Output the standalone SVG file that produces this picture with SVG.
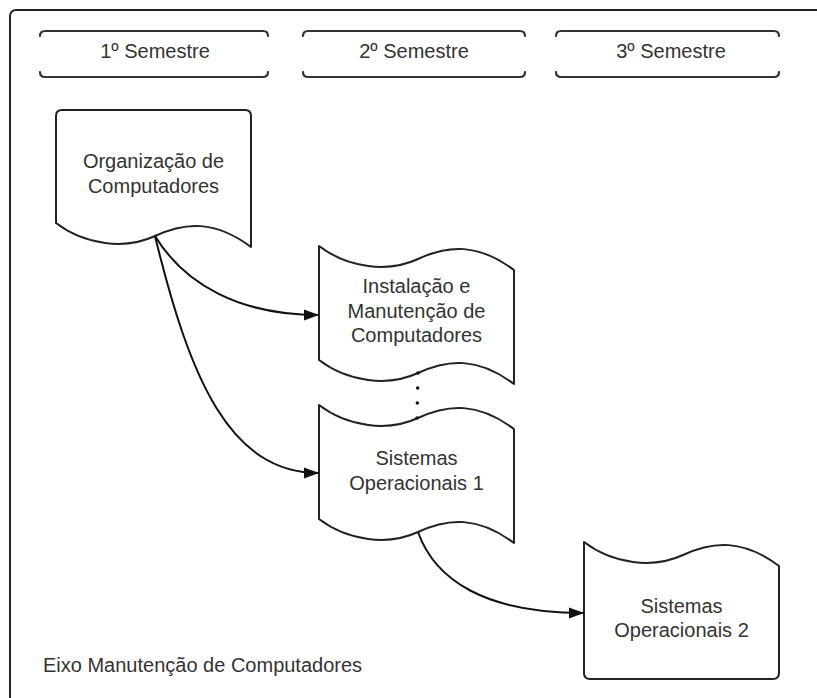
<svg xmlns="http://www.w3.org/2000/svg" width="817" height="698" viewBox="0 0 817 698">
<style>
.shape{fill:#fff;stroke:#222;stroke-width:2;stroke-linejoin:round}
.bar{fill:none;stroke:#333;stroke-width:2.2;stroke-linecap:round}
.t{font-family:"Liberation Sans",Arial,sans-serif;font-size:20px;fill:#333;text-anchor:middle}
.conn{fill:none;stroke:#111;stroke-width:2}
</style>
<defs>
<marker id="arr" markerUnits="userSpaceOnUse" markerWidth="16" markerHeight="12" refX="15" refY="6" orient="auto">
<path d="M0,0.5 L15,6 L0,11.5 Z" fill="#111"/>
</marker>
</defs>
<rect x="10" y="10" width="840" height="720" rx="6" fill="#fff" stroke="#222" stroke-width="2"/>
<g id="sem1">
<path class="bar" d="M40,36 Q40,31 45,31 L263,31 Q268,31 268,36 M40,72 Q40,77 45,77 L263,77 Q268,77 268,72"/>
<text class="t" x="155" y="58">1º Semestre</text>
</g>
<g id="sem2">
<path class="bar" d="M303,36 Q303,31 308,31 L520,31 Q525,31 525,36 M303,72 Q303,77 308,77 L520,77 Q525,77 525,72"/>
<text class="t" x="414" y="58">2º Semestre</text>
</g>
<g id="sem3">
<path class="bar" d="M556,36 Q556,31 561,31 L774,31 Q779,31 779,36 M556,72 Q556,77 561,77 L774,77 Q779,77 779,72"/>
<text class="t" x="671" y="58">3º Semestre</text>
</g>
<g id="org">
<path class="shape" d="M56,223 L56,116 Q56,110 62,110 L245,110 Q251,110 251,116 L251,247 c-36,-27 -66,-25 -96,-11 c-30,14 -70,9 -99,-13 Z"/>
<text class="t" x="153.5" y="168">Organização de</text>
<text class="t" x="153.5" y="193">Computadores</text>
</g>
<g id="inst">
<path class="shape" d="M319,246 c29,22 69,27 99,13 c30,-14 60,-16 96,11 L514,384 c-36,-27 -66,-25 -96,-11 c-30,14 -70,9 -99,-13 Z"/>
<text class="t" x="416.5" y="293">Instalação e</text>
<text class="t" x="416.5" y="317.5">Manutenção de</text>
<text class="t" x="416.5" y="342">Computadores</text>
</g>
<g id="so1">
<path class="shape" d="M319,405 c29,22 69,27 99,13 c30,-14 60,-16 96,11 L514,543 c-36,-27 -66,-25 -96,-11 c-30,14 -70,9 -99,-13 Z"/>
<text class="t" x="416.5" y="465">Sistemas</text>
<text class="t" x="416.5" y="490">Operacionais 1</text>
</g>
<g id="so2">
<path class="shape" d="M584,542 c29,22 69,27 99,13 c30,-14 60,-16 96,11 L779,673 Q779,679 773,679 L590,679 Q584,679 584,673 Z"/>
<text class="t" x="681.5" y="613">Sistemas</text>
<text class="t" x="681.5" y="637">Operacionais 2</text>
</g>
<g id="connectors">
<path class="conn" d="M155,236 C185,285 240,315 319,315" marker-end="url(#arr)"/>
<path class="conn" d="M155,236 C190,380 230,473 319,473" marker-end="url(#arr)"/>
<path class="conn" d="M418,532 C435,580 485,613 584,613" marker-end="url(#arr)"/>
<path d="M418,373 L417,418" fill="none" stroke="#111" stroke-width="3.5" stroke-linecap="round" stroke-dasharray="0 15"/>
</g>
<text x="43" y="672" style="font-family:'Liberation Sans',Arial,sans-serif;font-size:20px;fill:#333">Eixo Manutenção de Computadores</text>
</svg>
